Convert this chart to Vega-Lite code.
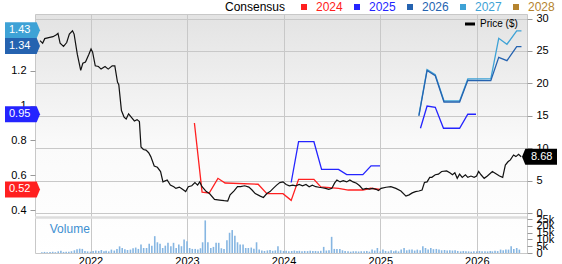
{
  "$schema": "https://vega.github.io/schema/vega-lite/v6.json",
  "width": 492,
  "height": 239,
  "autosize": {"type": "none"},
  "padding": {"left": 35, "top": 14, "right": 35, "bottom": 11},
  "background": "#ffffff",
  "config": {
    "font": "Liberation Sans",
    "view": {
      "stroke": "#c8c8c8",
      "fill": {"gradient": "linear", "x1": 0, "y1": 0, "x2": 0, "y2": 1,
        "stops": [{"offset": 0, "color": "#e3e3e3"}, {"offset": 0.55, "color": "#fafafa"}, {"offset": 1, "color": "#ffffff"}]}
    },
    "axis": {"labelFontSize": 11, "labelColor": "#000000", "tickColor": "#999999", "domain": false, "gridColor": "#c8c8c8", "gridOpacity": 1}
  },
  "datasets": {
    "eps": [
      {"s": "2024", "g": "a", "d": "2023-01-29", "v": 0.90},
      {"s": "2024", "g": "a", "d": "2023-02-27", "v": 0.505},
      {"s": "2024", "g": "a", "d": "2023-03-26", "v": 0.50},
      {"s": "2024", "g": "a", "d": "2023-04-28", "v": 0.584},
      {"s": "2024", "g": "a", "d": "2023-05-25", "v": 0.557},
      {"s": "2024", "g": "a", "d": "2023-09-27", "v": 0.55},
      {"s": "2024", "g": "a", "d": "2023-10-30", "v": 0.496},
      {"s": "2024", "g": "a", "d": "2023-12-30", "v": 0.496},
      {"s": "2024", "g": "a", "d": "2024-01-30", "v": 0.458},
      {"s": "2024", "g": "a", "d": "2024-02-27", "v": 0.578},
      {"s": "2024", "g": "a", "d": "2024-04-25", "v": 0.578},
      {"s": "2024", "g": "a", "d": "2024-05-21", "v": 0.535},
      {"s": "2024", "g": "a", "d": "2024-07-27", "v": 0.527},
      {"s": "2024", "g": "a", "d": "2024-09-02", "v": 0.517},
      {"s": "2024", "g": "a", "d": "2024-10-27", "v": 0.517},
      {"s": "2024", "g": "a", "d": "2024-11-26", "v": 0.527},
      {"s": "2024", "g": "a", "d": "2024-12-31", "v": 0.52},
      {"s": "2025", "g": "a", "d": "2024-01-30", "v": 0.56},
      {"s": "2025", "g": "a", "d": "2024-02-27", "v": 0.793},
      {"s": "2025", "g": "a", "d": "2024-04-25", "v": 0.793},
      {"s": "2025", "g": "a", "d": "2024-05-24", "v": 0.635},
      {"s": "2025", "g": "a", "d": "2024-07-27", "v": 0.635},
      {"s": "2025", "g": "a", "d": "2024-08-27", "v": 0.605},
      {"s": "2025", "g": "a", "d": "2024-10-27", "v": 0.605},
      {"s": "2025", "g": "a", "d": "2024-11-27", "v": 0.655},
      {"s": "2025", "g": "a", "d": "2024-12-31", "v": 0.655},
      {"s": "2025", "g": "b", "d": "2025-06-02", "v": 0.87},
      {"s": "2025", "g": "b", "d": "2025-06-27", "v": 0.997},
      {"s": "2025", "g": "b", "d": "2025-07-28", "v": 0.99},
      {"s": "2025", "g": "b", "d": "2025-08-28", "v": 0.87},
      {"s": "2025", "g": "b", "d": "2025-10-28", "v": 0.87},
      {"s": "2025", "g": "b", "d": "2025-11-28", "v": 0.95},
      {"s": "2025", "g": "b", "d": "2025-12-29", "v": 0.95},
      {"s": "2027", "g": "a", "d": "2025-05-27", "v": 0.946},
      {"s": "2027", "g": "a", "d": "2025-06-27", "v": 1.206},
      {"s": "2027", "g": "a", "d": "2025-07-28", "v": 1.176},
      {"s": "2027", "g": "a", "d": "2025-08-30", "v": 1.026},
      {"s": "2027", "g": "a", "d": "2025-10-28", "v": 1.026},
      {"s": "2027", "g": "a", "d": "2025-11-28", "v": 1.152},
      {"s": "2027", "g": "a", "d": "2026-02-23", "v": 1.152},
      {"s": "2027", "g": "a", "d": "2026-03-25", "v": 1.384},
      {"s": "2027", "g": "a", "d": "2026-04-25", "v": 1.35},
      {"s": "2027", "g": "a", "d": "2026-06-01", "v": 1.427},
      {"s": "2027", "g": "a", "d": "2026-06-19", "v": 1.427},
      {"s": "2026", "g": "a", "d": "2025-05-27", "v": 0.94},
      {"s": "2026", "g": "a", "d": "2025-06-27", "v": 1.20},
      {"s": "2026", "g": "a", "d": "2025-07-28", "v": 1.17},
      {"s": "2026", "g": "a", "d": "2025-08-30", "v": 1.02},
      {"s": "2026", "g": "a", "d": "2025-10-28", "v": 1.02},
      {"s": "2026", "g": "a", "d": "2025-11-28", "v": 1.144},
      {"s": "2026", "g": "a", "d": "2026-02-23", "v": 1.142},
      {"s": "2026", "g": "a", "d": "2026-03-25", "v": 1.275},
      {"s": "2026", "g": "a", "d": "2026-04-25", "v": 1.256},
      {"s": "2026", "g": "a", "d": "2026-06-01", "v": 1.336},
      {"s": "2026", "g": "a", "d": "2026-06-19", "v": 1.336}
    ],
    "tags": [
      {"s": "2027", "v": 1.43, "t": "1.43"},
      {"s": "2026", "v": 1.34, "t": "1.34"},
      {"s": "2025", "v": 0.95, "t": "0.95"},
      {"s": "2024", "v": 0.52, "t": "0.52"}
    ],
    "price": [
      {"d": "2021-06-24", "p": 26.6}, {"d": "2021-07-04", "p": 26.2}, {"d": "2021-07-12", "p": 26.9},
      {"d": "2021-07-31", "p": 27.1}, {"d": "2021-08-12", "p": 27.2}, {"d": "2021-08-25", "p": 27.5},
      {"d": "2021-08-31", "p": 27.7}, {"d": "2021-09-08", "p": 26.2}, {"d": "2021-09-21", "p": 25.7},
      {"d": "2021-10-03", "p": 26.3}, {"d": "2021-10-13", "p": 27.6}, {"d": "2021-10-25", "p": 28.1},
      {"d": "2021-10-31", "p": 27.6}, {"d": "2021-11-12", "p": 24.5}, {"d": "2021-11-25", "p": 22.0},
      {"d": "2021-12-03", "p": 23.1}, {"d": "2021-12-13", "p": 23.3}, {"d": "2021-12-26", "p": 24.5},
      {"d": "2022-01-03", "p": 25.3}, {"d": "2022-01-09", "p": 24.8}, {"d": "2022-01-19", "p": 22.7},
      {"d": "2022-01-31", "p": 22.6}, {"d": "2022-02-10", "p": 22.2}, {"d": "2022-02-25", "p": 22.6},
      {"d": "2022-03-09", "p": 22.2}, {"d": "2022-03-24", "p": 22.7}, {"d": "2022-04-03", "p": 22.7},
      {"d": "2022-04-13", "p": 20.2}, {"d": "2022-04-18", "p": 19.8}, {"d": "2022-04-28", "p": 15.8},
      {"d": "2022-05-08", "p": 14.8}, {"d": "2022-05-16", "p": 14.5}, {"d": "2022-05-25", "p": 15.3},
      {"d": "2022-06-04", "p": 14.8}, {"d": "2022-06-16", "p": 14.2}, {"d": "2022-06-26", "p": 14.4},
      {"d": "2022-07-05", "p": 14.1}, {"d": "2022-07-11", "p": 10.2}, {"d": "2022-07-20", "p": 9.8},
      {"d": "2022-07-30", "p": 9.7}, {"d": "2022-08-09", "p": 9.3}, {"d": "2022-08-17", "p": 8.7},
      {"d": "2022-08-30", "p": 7.25}, {"d": "2022-09-11", "p": 7.05}, {"d": "2022-09-23", "p": 6.4},
      {"d": "2022-10-02", "p": 4.8}, {"d": "2022-10-18", "p": 5.1}, {"d": "2022-10-30", "p": 4.3},
      {"d": "2022-11-12", "p": 4.06}, {"d": "2022-11-20", "p": 3.8}, {"d": "2022-12-03", "p": 4.0},
      {"d": "2022-12-15", "p": 3.65}, {"d": "2022-12-27", "p": 3.3}, {"d": "2023-01-06", "p": 4.06},
      {"d": "2023-01-19", "p": 4.2}, {"d": "2023-01-31", "p": 4.7}, {"d": "2023-02-10", "p": 4.3},
      {"d": "2023-02-18", "p": 4.8}, {"d": "2023-02-27", "p": 4.06}, {"d": "2023-03-15", "p": 3.3},
      {"d": "2023-03-27", "p": 3.0}, {"d": "2023-04-15", "p": 2.1}, {"d": "2023-05-04", "p": 2.0},
      {"d": "2023-05-22", "p": 1.9}, {"d": "2023-06-04", "p": 1.85}, {"d": "2023-06-13", "p": 2.8},
      {"d": "2023-06-28", "p": 3.4}, {"d": "2023-07-11", "p": 4.06}, {"d": "2023-07-23", "p": 4.06},
      {"d": "2023-08-07", "p": 4.2}, {"d": "2023-08-23", "p": 4.0}, {"d": "2023-09-04", "p": 3.55},
      {"d": "2023-09-16", "p": 3.0}, {"d": "2023-10-05", "p": 2.6}, {"d": "2023-10-17", "p": 2.4},
      {"d": "2023-10-30", "p": 3.0}, {"d": "2023-11-11", "p": 3.3}, {"d": "2023-11-23", "p": 3.8},
      {"d": "2023-12-06", "p": 4.3}, {"d": "2023-12-18", "p": 4.7}, {"d": "2023-12-30", "p": 4.8},
      {"d": "2024-01-11", "p": 4.4}, {"d": "2024-01-23", "p": 4.2}, {"d": "2024-02-05", "p": 4.3},
      {"d": "2024-02-17", "p": 4.2}, {"d": "2024-02-29", "p": 4.4}, {"d": "2024-03-13", "p": 4.2},
      {"d": "2024-03-26", "p": 4.4}, {"d": "2024-04-07", "p": 4.06}, {"d": "2024-04-19", "p": 4.3},
      {"d": "2024-05-02", "p": 4.06}, {"d": "2024-05-14", "p": 3.97}, {"d": "2024-05-26", "p": 3.9},
      {"d": "2024-06-08", "p": 3.8}, {"d": "2024-06-20", "p": 3.65}, {"d": "2024-07-02", "p": 3.8},
      {"d": "2024-07-12", "p": 4.6}, {"d": "2024-07-21", "p": 5.1}, {"d": "2024-08-02", "p": 4.8},
      {"d": "2024-08-14", "p": 5.0}, {"d": "2024-08-27", "p": 4.8}, {"d": "2024-09-08", "p": 5.1},
      {"d": "2024-09-20", "p": 4.8}, {"d": "2024-10-03", "p": 4.6}, {"d": "2024-10-15", "p": 4.2},
      {"d": "2024-10-27", "p": 3.65}, {"d": "2024-11-09", "p": 3.8}, {"d": "2024-11-21", "p": 3.7},
      {"d": "2024-12-03", "p": 3.8}, {"d": "2024-12-16", "p": 3.65}, {"d": "2024-12-25", "p": 3.45},
      {"d": "2025-01-04", "p": 3.8}, {"d": "2025-01-23", "p": 3.97}, {"d": "2025-02-10", "p": 4.06},
      {"d": "2025-03-01", "p": 3.8}, {"d": "2025-03-20", "p": 3.4}, {"d": "2025-04-08", "p": 2.6},
      {"d": "2025-04-20", "p": 2.8}, {"d": "2025-05-02", "p": 3.1}, {"d": "2025-05-14", "p": 3.3},
      {"d": "2025-05-27", "p": 3.4}, {"d": "2025-06-08", "p": 3.55}, {"d": "2025-06-17", "p": 4.7},
      {"d": "2025-06-27", "p": 4.8}, {"d": "2025-07-07", "p": 5.5}, {"d": "2025-07-15", "p": 5.5},
      {"d": "2025-07-28", "p": 5.9}, {"d": "2025-08-09", "p": 6.0}, {"d": "2025-08-21", "p": 6.4},
      {"d": "2025-09-09", "p": 6.5}, {"d": "2025-09-21", "p": 6.2}, {"d": "2025-10-01", "p": 5.9},
      {"d": "2025-10-10", "p": 6.2}, {"d": "2025-10-19", "p": 5.35}, {"d": "2025-10-28", "p": 6.0},
      {"d": "2025-11-07", "p": 5.5}, {"d": "2025-11-19", "p": 5.9}, {"d": "2025-11-28", "p": 5.5},
      {"d": "2025-12-10", "p": 5.7}, {"d": "2025-12-22", "p": 5.5}, {"d": "2025-12-31", "p": 5.7},
      {"d": "2026-01-08", "p": 6.4}, {"d": "2026-01-17", "p": 5.9}, {"d": "2026-01-29", "p": 5.35},
      {"d": "2026-02-10", "p": 5.7}, {"d": "2026-03-01", "p": 6.4}, {"d": "2026-03-13", "p": 6.1},
      {"d": "2026-03-28", "p": 5.7}, {"d": "2026-04-09", "p": 5.5}, {"d": "2026-04-19", "p": 7.4},
      {"d": "2026-04-29", "p": 7.9}, {"d": "2026-05-08", "p": 8.2}, {"d": "2026-05-20", "p": 8.95},
      {"d": "2026-05-29", "p": 8.7}, {"d": "2026-06-08", "p": 9.05}, {"d": "2026-06-18", "p": 8.68}
    ],
    "vol": [
      {"d": "2021-07-01", "v": 0.6}, {"d": "2021-07-11", "v": 0.8}, {"d": "2021-07-21", "v": 0.5},
      {"d": "2021-08-01", "v": 0.7}, {"d": "2021-08-11", "v": 0.9}, {"d": "2021-08-21", "v": 0.6},
      {"d": "2021-09-01", "v": 1.2}, {"d": "2021-09-11", "v": 1.6}, {"d": "2021-09-21", "v": 0.8},
      {"d": "2021-10-01", "v": 0.9}, {"d": "2021-10-11", "v": 1.0}, {"d": "2021-10-21", "v": 1.3},
      {"d": "2021-11-01", "v": 2.0}, {"d": "2021-11-11", "v": 2.8}, {"d": "2021-11-21", "v": 3.2},
      {"d": "2021-12-01", "v": 3.0}, {"d": "2021-12-11", "v": 1.5}, {"d": "2021-12-21", "v": 1.2},
      {"d": "2022-01-01", "v": 1.0}, {"d": "2022-01-11", "v": 1.4}, {"d": "2022-01-21", "v": 1.8},
      {"d": "2022-02-01", "v": 1.5}, {"d": "2022-02-11", "v": 2.2}, {"d": "2022-02-21", "v": 1.3},
      {"d": "2022-03-01", "v": 1.6}, {"d": "2022-03-11", "v": 1.2}, {"d": "2022-03-21", "v": 2.5},
      {"d": "2022-04-01", "v": 1.8}, {"d": "2022-04-11", "v": 3.0}, {"d": "2022-04-21", "v": 4.9},
      {"d": "2022-05-01", "v": 3.7}, {"d": "2022-05-11", "v": 2.8}, {"d": "2022-05-21", "v": 2.2},
      {"d": "2022-06-01", "v": 2.5}, {"d": "2022-06-11", "v": 3.5}, {"d": "2022-06-21", "v": 4.0},
      {"d": "2022-07-01", "v": 3.0}, {"d": "2022-07-11", "v": 6.2}, {"d": "2022-07-21", "v": 3.7},
      {"d": "2022-08-01", "v": 3.7}, {"d": "2022-08-11", "v": 6.9}, {"d": "2022-08-21", "v": 5.4},
      {"d": "2022-09-01", "v": 12.4}, {"d": "2022-09-11", "v": 7.9}, {"d": "2022-09-21", "v": 6.9},
      {"d": "2022-10-01", "v": 3.7}, {"d": "2022-10-11", "v": 5.4}, {"d": "2022-10-21", "v": 7.5},
      {"d": "2022-11-01", "v": 5.0}, {"d": "2022-11-11", "v": 7.5}, {"d": "2022-11-21", "v": 3.7},
      {"d": "2022-12-01", "v": 6.2}, {"d": "2022-12-11", "v": 5.0}, {"d": "2022-12-21", "v": 9.9},
      {"d": "2023-01-01", "v": 8.7}, {"d": "2023-01-11", "v": 3.7}, {"d": "2023-01-21", "v": 3.0},
      {"d": "2023-02-01", "v": 3.0}, {"d": "2023-02-11", "v": 2.5}, {"d": "2023-02-21", "v": 3.5},
      {"d": "2023-03-01", "v": 7.9}, {"d": "2023-03-11", "v": 24.0}, {"d": "2023-03-21", "v": 7.9},
      {"d": "2023-04-01", "v": 3.7}, {"d": "2023-04-11", "v": 4.5}, {"d": "2023-04-21", "v": 7.5},
      {"d": "2023-05-01", "v": 7.5}, {"d": "2023-05-11", "v": 3.5}, {"d": "2023-05-21", "v": 3.0},
      {"d": "2023-06-01", "v": 9.3}, {"d": "2023-06-11", "v": 14.9}, {"d": "2023-06-21", "v": 16.9},
      {"d": "2023-07-01", "v": 12.7}, {"d": "2023-07-11", "v": 7.9}, {"d": "2023-07-21", "v": 6.2},
      {"d": "2023-08-01", "v": 6.2}, {"d": "2023-08-11", "v": 3.7}, {"d": "2023-08-21", "v": 3.7},
      {"d": "2023-09-01", "v": 4.0}, {"d": "2023-09-11", "v": 3.2}, {"d": "2023-09-21", "v": 7.9},
      {"d": "2023-10-01", "v": 2.5}, {"d": "2023-10-11", "v": 1.9}, {"d": "2023-10-21", "v": 1.5},
      {"d": "2023-11-01", "v": 1.9}, {"d": "2023-11-11", "v": 2.2}, {"d": "2023-11-21", "v": 1.6},
      {"d": "2023-12-01", "v": 1.9}, {"d": "2023-12-11", "v": 4.9}, {"d": "2023-12-21", "v": 2.0},
      {"d": "2024-01-01", "v": 1.5}, {"d": "2024-01-11", "v": 1.6}, {"d": "2024-01-21", "v": 1.3},
      {"d": "2024-02-01", "v": 1.5}, {"d": "2024-02-11", "v": 1.8}, {"d": "2024-02-21", "v": 1.4},
      {"d": "2024-03-01", "v": 1.6}, {"d": "2024-03-11", "v": 1.3}, {"d": "2024-03-21", "v": 1.5},
      {"d": "2024-04-01", "v": 1.4}, {"d": "2024-04-11", "v": 1.7}, {"d": "2024-04-21", "v": 1.5},
      {"d": "2024-05-01", "v": 1.5}, {"d": "2024-05-11", "v": 1.3}, {"d": "2024-05-21", "v": 1.6},
      {"d": "2024-06-01", "v": 4.5}, {"d": "2024-06-11", "v": 1.8}, {"d": "2024-06-21", "v": 2.0},
      {"d": "2024-07-01", "v": 11.9}, {"d": "2024-07-11", "v": 3.0}, {"d": "2024-07-21", "v": 3.0},
      {"d": "2024-08-01", "v": 3.0}, {"d": "2024-08-11", "v": 2.0}, {"d": "2024-08-21", "v": 1.5},
      {"d": "2024-09-01", "v": 1.2}, {"d": "2024-09-11", "v": 1.0}, {"d": "2024-09-21", "v": 1.3},
      {"d": "2024-10-01", "v": 1.2}, {"d": "2024-10-11", "v": 1.1}, {"d": "2024-10-21", "v": 1.3},
      {"d": "2024-11-01", "v": 1.2}, {"d": "2024-11-11", "v": 1.5}, {"d": "2024-11-21", "v": 1.0},
      {"d": "2024-12-01", "v": 2.5}, {"d": "2024-12-11", "v": 1.8}, {"d": "2024-12-21", "v": 3.7},
      {"d": "2025-01-01", "v": 1.2}, {"d": "2025-01-11", "v": 2.5}, {"d": "2025-01-21", "v": 1.5},
      {"d": "2025-02-01", "v": 1.2}, {"d": "2025-02-11", "v": 2.0}, {"d": "2025-02-21", "v": 1.3},
      {"d": "2025-03-01", "v": 1.8}, {"d": "2025-03-11", "v": 1.2}, {"d": "2025-03-21", "v": 2.5},
      {"d": "2025-04-01", "v": 3.7}, {"d": "2025-04-11", "v": 2.0}, {"d": "2025-04-21", "v": 2.5},
      {"d": "2025-05-01", "v": 2.5}, {"d": "2025-05-11", "v": 1.8}, {"d": "2025-05-21", "v": 2.5},
      {"d": "2025-06-01", "v": 2.0}, {"d": "2025-06-11", "v": 4.9}, {"d": "2025-06-21", "v": 3.7},
      {"d": "2025-07-01", "v": 2.5}, {"d": "2025-07-11", "v": 3.7}, {"d": "2025-07-21", "v": 2.8},
      {"d": "2025-08-01", "v": 3.0}, {"d": "2025-08-11", "v": 2.5}, {"d": "2025-08-21", "v": 2.0},
      {"d": "2025-09-01", "v": 2.2}, {"d": "2025-09-11", "v": 1.8}, {"d": "2025-09-21", "v": 2.0},
      {"d": "2025-10-01", "v": 1.8}, {"d": "2025-10-11", "v": 2.0}, {"d": "2025-10-21", "v": 1.5},
      {"d": "2025-11-01", "v": 1.2}, {"d": "2025-11-11", "v": 1.5}, {"d": "2025-11-21", "v": 1.2},
      {"d": "2025-12-01", "v": 1.2}, {"d": "2025-12-11", "v": 1.0}, {"d": "2025-12-21", "v": 1.3},
      {"d": "2026-01-01", "v": 1.2}, {"d": "2026-01-11", "v": 1.5}, {"d": "2026-01-21", "v": 1.2},
      {"d": "2026-02-01", "v": 1.3}, {"d": "2026-02-11", "v": 1.2}, {"d": "2026-02-21", "v": 1.5},
      {"d": "2026-03-01", "v": 1.2}, {"d": "2026-03-11", "v": 1.6}, {"d": "2026-03-21", "v": 1.4},
      {"d": "2026-04-01", "v": 2.5}, {"d": "2026-04-11", "v": 2.0}, {"d": "2026-04-21", "v": 2.5},
      {"d": "2026-05-01", "v": 2.5}, {"d": "2026-05-11", "v": 4.9}, {"d": "2026-05-21", "v": 3.0},
      {"d": "2026-06-01", "v": 3.7}, {"d": "2026-06-11", "v": 2.5}
    ]
  },
  "layer": [
    {
      "data": {"name": "eps"},
      "mark": {"type": "line", "strokeWidth": 1.3},
      "encoding": {
        "x": {"field": "d", "type": "temporal",
          "scale": {"domain": [{"year": 2021, "month": 6, "date": 24}, {"year": 2026, "month": 6, "date": 21}]},
          "axis": {"orient": "bottom", "title": null, "format": "%Y", "tickCount": {"interval": "year", "step": 1}, "grid": true, "ticks": false, "labelPadding": 2, "labelFlush": false, "labelOverlap": false}},
        "y": {"field": "v", "type": "quantitative",
          "scale": {"domain": [0.1571, 1.5229], "nice": false, "zero": false},
          "axis": {"orient": "left", "title": null, "values": [0.4, 0.6, 0.8, 1, 1.2], "format": "~g", "grid": false, "tickSize": 5, "labelPadding": 4}},
        "color": {"field": "s", "type": "nominal",
          "scale": {"domain": ["2024", "2025", "2026", "2027", "2028"], "range": ["#ff2020", "#2424ff", "#2563b0", "#3ea2d6", "#b5832e"]},
          "legend": {"orient": "none", "legendX": 190, "legendY": -13, "direction": "horizontal", "title": "Consensus", "titleOrient": "left", "titleFontSize": 12, "titleFontWeight": "normal", "titleColor": "#000000", "titlePadding": 12, "symbolType": "square", "symbolSize": 36, "symbolStrokeWidth": 0, "labelFontSize": 12, "labelOffset": 6, "columnPadding": 8, "padding": 0,
            "encode": {
              "labels": {"update": {"fill": {"scale": "color", "field": "value"}}},
              "symbols": {"update": {"fill": {"scale": "color", "field": "value"}, "stroke": {"scale": "color", "field": "value"}, "opacity": {"value": 1}}}
            }}},
        "detail": {"field": "g"}
      }
    },
    {
      "data": {"name": "tags"},
      "mark": {"type": "point", "shape": "M-2,-0.457L-0.19,-0.457L0,0L-0.19,0.457L-2,0.457Z", "size": 1225, "filled": true, "opacity": 1, "strokeWidth": 0},
      "encoding": {
        "x": {"datum": {"year": 2021, "month": 6, "date": 24}, "type": "temporal",
          "scale": {"domain": [{"year": 2021, "month": 6, "date": 24}, {"year": 2026, "month": 6, "date": 21}]},
          "axis": {"orient": "bottom", "title": null, "format": "%Y", "tickCount": {"interval": "year", "step": 1}, "grid": true, "ticks": false, "labelPadding": 2, "labelFlush": false, "labelOverlap": false}},
        "y": {"field": "v", "type": "quantitative", "scale": {"domain": [0.1571, 1.5229], "nice": false, "zero": false}, "axis": null},
        "color": {"field": "s", "type": "nominal", "legend": null}
      }
    },
    {
      "data": {"name": "tags"},
      "mark": {"type": "text", "align": "left", "baseline": "middle", "dx": -31, "color": "#ffffff", "fontSize": 11},
      "encoding": {
        "x": {"datum": {"year": 2021, "month": 6, "date": 24}, "type": "temporal",
          "scale": {"domain": [{"year": 2021, "month": 6, "date": 24}, {"year": 2026, "month": 6, "date": 21}]},
          "axis": {"orient": "bottom", "title": null, "format": "%Y", "tickCount": {"interval": "year", "step": 1}, "grid": true, "ticks": false, "labelPadding": 2, "labelFlush": false, "labelOverlap": false}},
        "y": {"field": "v", "type": "quantitative", "scale": {"domain": [0.1571, 1.5229], "nice": false, "zero": false}, "axis": null},
        "text": {"field": "t"}
      }
    },
    {
      "data": {"values": [{"v": -0.69}]},
      "mark": {"type": "rule", "color": "#dddddd", "strokeWidth": 2.5},
      "encoding": {
        "y": {"field": "v", "type": "quantitative", "scale": {"domain": [-6.17, 30.7], "nice": false, "zero": false}, "axis": null}
      }
    },
    {
      "data": {"name": "price"},
      "mark": {"type": "line", "strokeWidth": 1.2},
      "encoding": {
        "x": {"field": "d", "type": "temporal",
          "scale": {"domain": [{"year": 2021, "month": 6, "date": 24}, {"year": 2026, "month": 6, "date": 21}]},
          "axis": {"orient": "bottom", "title": null, "format": "%Y", "tickCount": {"interval": "year", "step": 1}, "grid": true, "ticks": false, "labelPadding": 2, "labelFlush": false, "labelOverlap": false}},
        "y": {"field": "p", "type": "quantitative",
          "scale": {"domain": [-6.17, 30.7], "nice": false, "zero": false},
          "axis": {"orient": "right", "title": null, "values": [0, 5, 10, 15, 20, 25, 30], "grid": true, "tickSize": 5, "labelPadding": 4}},
        "stroke": {"datum": "Price ($)", "type": "nominal",
          "scale": {"domain": ["Price ($)"], "range": ["#111111"]},
          "legend": {"orient": "none", "legendX": 430, "legendY": 5, "title": null, "symbolType": "M-1,-0.3H1V0.3H-1Z", "symbolSize": 100, "symbolStrokeWidth": 0, "labelFontSize": 10, "labelColor": "#000000", "labelOffset": 5, "padding": 0,
            "encode": {"symbols": {"update": {"fill": {"value": "#000000"}, "opacity": {"value": 1}}}}}}
      }
    },
    {
      "data": {"values": [{"p": 8.68, "t": "8.68"}]},
      "mark": {"type": "point", "shape": "M0,0L0.19,-0.457L2,-0.457L2,0.457L0.19,0.457Z", "size": 1225, "filled": true, "opacity": 1, "color": "#000000", "strokeWidth": 0},
      "encoding": {
        "x": {"datum": {"year": 2026, "month": 6, "date": 21}, "type": "temporal",
          "scale": {"domain": [{"year": 2021, "month": 6, "date": 24}, {"year": 2026, "month": 6, "date": 21}]},
          "axis": {"orient": "bottom", "title": null, "format": "%Y", "tickCount": {"interval": "year", "step": 1}, "grid": true, "ticks": false, "labelPadding": 2, "labelFlush": false, "labelOverlap": false}},
        "y": {"field": "p", "type": "quantitative", "scale": {"domain": [-6.17, 30.7], "nice": false, "zero": false}, "axis": null}
      }
    },
    {
      "data": {"values": [{"p": 8.68, "t": "8.68"}]},
      "mark": {"type": "text", "align": "left", "baseline": "middle", "dx": 9, "color": "#ffffff", "fontSize": 11},
      "encoding": {
        "x": {"datum": {"year": 2026, "month": 6, "date": 21}, "type": "temporal",
          "scale": {"domain": [{"year": 2021, "month": 6, "date": 24}, {"year": 2026, "month": 6, "date": 21}]},
          "axis": {"orient": "bottom", "title": null, "format": "%Y", "tickCount": {"interval": "year", "step": 1}, "grid": true, "ticks": false, "labelPadding": 2, "labelFlush": false, "labelOverlap": false}},
        "y": {"field": "p", "type": "quantitative", "scale": {"domain": [-6.17, 30.7], "nice": false, "zero": false}, "axis": null},
        "text": {"field": "t"}
      }
    },
    {
      "data": {"values": [{"t": "Volume", "v": 18}]},
      "mark": {"type": "text", "align": "left", "baseline": "middle", "color": "#3d8fd1", "fontSize": 12},
      "encoding": {
        "x": {"datum": {"year": 2021, "month": 7, "date": 31}, "type": "temporal",
          "scale": {"domain": [{"year": 2021, "month": 6, "date": 24}, {"year": 2026, "month": 6, "date": 21}]},
          "axis": {"orient": "bottom", "title": null, "format": "%Y", "tickCount": {"interval": "year", "step": 1}, "grid": true, "ticks": false, "labelPadding": 2, "labelFlush": false, "labelOverlap": false}},
        "y": {"field": "v", "type": "quantitative", "scale": {"domain": [0, 176], "nice": false}, "axis": null},
        "text": {"field": "t"}
      }
    },
    {
      "data": {"name": "vol"},
      "mark": {"type": "bar", "width": 1.6, "color": "#86b6e2"},
      "encoding": {
        "x": {"field": "d", "type": "temporal",
          "scale": {"domain": [{"year": 2021, "month": 6, "date": 24}, {"year": 2026, "month": 6, "date": 21}]},
          "axis": {"orient": "bottom", "title": null, "format": "%Y", "tickCount": {"interval": "year", "step": 1}, "grid": true, "ticks": false, "labelPadding": 2, "labelFlush": false, "labelOverlap": false}},
        "y": {"field": "v", "type": "quantitative",
          "scale": {"domain": [0, 176], "nice": false},
          "axis": {"orient": "right", "title": null, "values": [0, 5, 10, 15, 20, 25], "labelExpr": "datum.value == 0 ? '0' : datum.value + 'k'", "grid": false, "tickSize": 5, "labelPadding": 4, "labelOverlap": false}}
      }
    }
  ],
  "resolve": {"scale": {"y": "independent"}, "axis": {"y": "independent"}}
}
